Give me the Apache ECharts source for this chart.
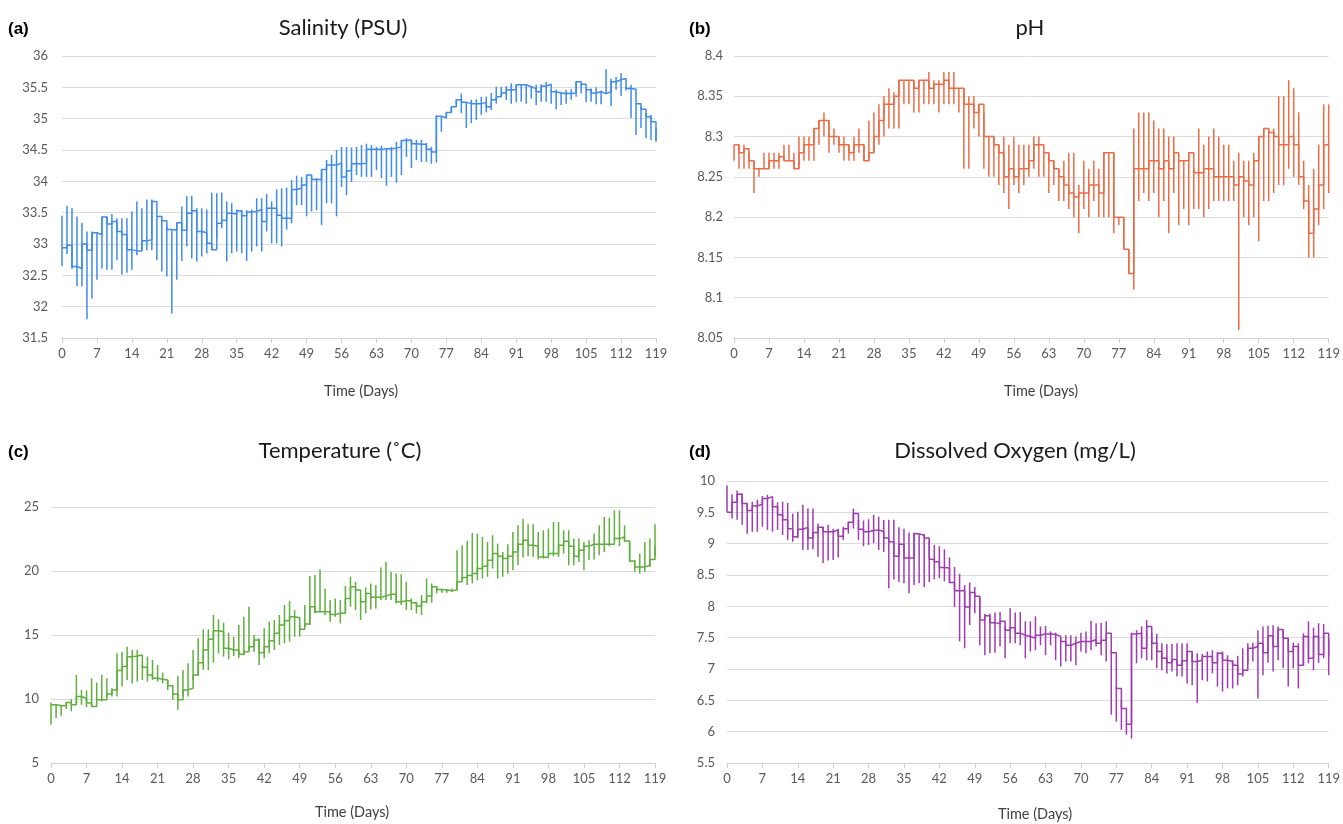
<!DOCTYPE html>
<html>
<head>
<meta charset="utf-8">
<script src="https://cdn.jsdelivr.net/npm/echarts@6/dist/echarts.min.js"></script>
<style>
  html, body { margin: 0; padding: 0; background: #ffffff; }
  #chart { width: 1343px; height: 824px; }
</style>
</head>
<body>
<div id="chart"></div>
<script>
// Daily water-quality record over 120 days: mean with min/max range per day.
const dayCount = 120;

// Salinity (PSU)
const salMean = [
  32.94, 32.98, 32.64, 32.61, 33.00, 32.90, 33.18, 33.15, 33.43, 33.32,
  33.36, 33.20, 33.15, 32.91, 32.89, 32.89, 33.05, 33.07, 33.68, 33.44,
  33.37, 33.23, 33.22, 33.34, 33.22, 33.49, 33.53, 33.20, 33.18, 33.01,
  32.91, 33.33, 33.38, 33.49, 33.48, 33.53, 33.45, 33.51, 33.52, 33.55,
  33.36, 33.57, 33.57, 33.46, 33.41, 33.41, 33.87, 33.89, 33.94, 34.10,
  34.03, 34.03, 34.19, 34.26, 34.26, 34.29, 34.07, 34.17, 34.28, 34.28,
  34.29, 34.51, 34.51, 34.51, 34.52, 34.52, 34.53, 34.55, 34.65, 34.66,
  34.60, 34.59, 34.59, 34.51, 34.47, 35.04, 35.01, 35.10, 35.19, 35.30,
  35.26, 35.24, 35.24, 35.24, 35.26, 35.19, 35.30, 35.35, 35.41, 35.46,
  35.46, 35.54, 35.54, 35.51, 35.48, 35.43, 35.52, 35.55, 35.43, 35.41,
  35.40, 35.40, 35.41, 35.59, 35.55, 35.46, 35.41, 35.43, 35.40, 35.43,
  35.59, 35.62, 35.64, 35.48, 35.47, 35.24, 35.15, 35.03, 34.95, 34.65
];
const salLow = [
  32.65, 32.84, 32.60, 32.33, 32.32, 31.80, 32.13, 32.43, 32.61, 32.59,
  32.59, 32.74, 32.51, 32.54, 32.59, 32.82, 32.90, 32.90, 32.90, 32.74,
  32.56, 32.48, 31.89, 32.43, 32.73, 32.96, 32.77, 32.72, 32.80, 32.85,
  32.91, 33.09, 33.25, 32.72, 32.85, 32.88, 32.85, 32.73, 32.88, 32.96,
  32.88, 33.20, 33.01, 33.01, 32.96, 33.23, 33.33, 33.62, 33.62, 33.44,
  33.52, 33.54, 33.30, 33.65, 33.65, 33.44, 33.91, 33.78, 33.99, 34.10,
  34.07, 34.07, 34.07, 34.18, 34.05, 33.93, 34.07, 33.98, 34.10, 34.39,
  34.21, 34.34, 34.31, 34.31, 34.28, 34.30, 34.79, 35.03, 35.11, 35.22,
  35.09, 34.85, 34.93, 34.98, 35.06, 35.10, 35.14, 35.24, 35.35, 35.30,
  35.24, 35.26, 35.27, 35.24, 35.32, 35.22, 35.27, 35.27, 35.24, 35.15,
  35.22, 35.24, 35.30, 35.35, 35.40, 35.26, 35.27, 35.23, 35.23, 35.40,
  35.20, 35.46, 35.36, 35.45, 35.01, 34.74, 34.85, 34.69, 34.66, 34.63
];
const salHigh = [
  33.45, 33.61, 33.57, 33.44, 33.34, 33.20, 33.20, 33.18, 33.44, 33.44,
  33.48, 33.41, 33.41, 33.41, 33.52, 33.68, 33.57, 33.71, 33.71, 33.44,
  33.38, 33.28, 33.22, 33.34, 33.60, 33.76, 33.77, 33.57, 33.57, 33.55,
  33.82, 33.81, 33.82, 33.68, 33.65, 33.55, 33.54, 33.54, 33.55, 33.73,
  33.73, 33.80, 33.68, 33.87, 33.89, 33.90, 34.02, 34.09, 34.07, 34.10,
  34.09, 34.05, 34.19, 34.34, 34.42, 34.50, 34.55, 34.55, 34.54, 34.55,
  34.58, 34.60, 34.58, 34.55, 34.57, 34.53, 34.55, 34.63, 34.66, 34.69,
  34.66, 34.66, 34.66, 34.61, 34.55, 35.05, 35.04, 35.10, 35.19, 35.31,
  35.40, 35.26, 35.30, 35.31, 35.35, 35.35, 35.41, 35.51, 35.51, 35.52,
  35.56, 35.54, 35.54, 35.54, 35.51, 35.54, 35.55, 35.59, 35.47, 35.46,
  35.43, 35.46, 35.47, 35.59, 35.56, 35.48, 35.48, 35.50, 35.45, 35.79,
  35.64, 35.67, 35.73, 35.51, 35.54, 35.24, 35.19, 35.09, 35.06, 34.85
];

// pH
const phMean = [
  8.290, 8.280, 8.285, 8.270, 8.260, 8.260, 8.260, 8.270, 8.270, 8.275,
  8.270, 8.270, 8.260, 8.280, 8.290, 8.290, 8.310, 8.320, 8.320, 8.300,
  8.300, 8.290, 8.290, 8.280, 8.290, 8.290, 8.270, 8.280, 8.300, 8.320,
  8.340, 8.340, 8.350, 8.370, 8.370, 8.370, 8.360, 8.370, 8.370, 8.360,
  8.365, 8.365, 8.370, 8.360, 8.360, 8.360, 8.340, 8.340, 8.330, 8.340,
  8.300, 8.300, 8.290, 8.280, 8.250, 8.260, 8.250, 8.260, 8.260, 8.270,
  8.290, 8.290, 8.280, 8.270, 8.260, 8.250, 8.240, 8.230, 8.225, 8.230,
  8.230, 8.240, 8.240, 8.230, 8.280, 8.280, 8.200, 8.200, 8.160, 8.130,
  8.260, 8.260, 8.260, 8.270, 8.270, 8.260, 8.270, 8.260, 8.280, 8.270,
  8.270, 8.280, 8.255, 8.255, 8.260, 8.260, 8.250, 8.250, 8.250, 8.250,
  8.240, 8.250, 8.245, 8.240, 8.270, 8.300, 8.310, 8.305, 8.300, 8.290,
  8.290, 8.300, 8.290, 8.250, 8.220, 8.180, 8.210, 8.240, 8.290, 8.290
];
const phLow = [
  8.27, 8.26, 8.26, 8.26, 8.23, 8.25, 8.26, 8.26, 8.26, 8.26,
  8.27, 8.27, 8.26, 8.26, 8.27, 8.27, 8.27, 8.29, 8.30, 8.28,
  8.29, 8.28, 8.27, 8.27, 8.27, 8.28, 8.27, 8.27, 8.28, 8.29,
  8.30, 8.31, 8.31, 8.31, 8.34, 8.34, 8.33, 8.33, 8.34, 8.34,
  8.34, 8.33, 8.34, 8.34, 8.34, 8.33, 8.26, 8.26, 8.31, 8.30,
  8.26, 8.25, 8.25, 8.24, 8.23, 8.21, 8.24, 8.23, 8.24, 8.25,
  8.26, 8.25, 8.25, 8.23, 8.24, 8.22, 8.22, 8.21, 8.20, 8.18,
  8.21, 8.20, 8.22, 8.20, 8.20, 8.20, 8.18, 8.19, 8.16, 8.13,
  8.11, 8.22, 8.23, 8.22, 8.23, 8.20, 8.22, 8.18, 8.23, 8.19,
  8.21, 8.19, 8.21, 8.21, 8.20, 8.21, 8.22, 8.22, 8.22, 8.22,
  8.22, 8.06, 8.20, 8.19, 8.20, 8.17, 8.22, 8.22, 8.23, 8.24,
  8.24, 8.26, 8.25, 8.24, 8.21, 8.15, 8.15, 8.19, 8.21, 8.23
];
const phHigh = [
  8.29, 8.29, 8.29, 8.28, 8.27, 8.26, 8.28, 8.28, 8.28, 8.28,
  8.29, 8.29, 8.28, 8.30, 8.30, 8.30, 8.31, 8.32, 8.33, 8.32,
  8.31, 8.30, 8.30, 8.29, 8.30, 8.31, 8.29, 8.32, 8.33, 8.34,
  8.35, 8.36, 8.355, 8.37, 8.37, 8.37, 8.37, 8.37, 8.37, 8.38,
  8.37, 8.37, 8.38, 8.38, 8.38, 8.36, 8.36, 8.35, 8.35, 8.34,
  8.33, 8.30, 8.30, 8.29, 8.30, 8.29, 8.30, 8.29, 8.29, 8.29,
  8.30, 8.30, 8.28, 8.28, 8.27, 8.26, 8.27, 8.28, 8.28, 8.24,
  8.27, 8.26, 8.27, 8.26, 8.28, 8.28, 8.28, 8.20, 8.20, 8.16,
  8.31, 8.33, 8.33, 8.33, 8.32, 8.31, 8.31, 8.30, 8.30, 8.27,
  8.27, 8.28, 8.26, 8.31, 8.29, 8.30, 8.31, 8.30, 8.29, 8.29,
  8.27, 8.28, 8.27, 8.27, 8.28, 8.30, 8.31, 8.31, 8.31, 8.35,
  8.35, 8.37, 8.36, 8.33, 8.27, 8.24, 8.26, 8.29, 8.34, 8.34
];

// Temperature (°C)
const tempMean = [
  9.55, 9.47, 9.47, 9.73, 9.55, 10.19, 10.06, 9.68, 9.42, 9.94,
  9.94, 10.40, 10.71, 12.22, 12.53, 13.31, 13.36, 13.44, 12.48, 11.88,
  11.62, 11.55, 11.49, 11.03, 10.40, 9.94, 10.71, 10.84, 11.88, 12.84,
  13.83, 14.66, 15.34, 15.26, 13.96, 13.83, 13.83, 13.50, 13.70, 14.09,
  14.61, 13.62, 14.09, 14.56, 15.13, 15.78, 16.12, 16.43, 16.35, 15.44,
  15.86, 17.21, 16.82, 16.82, 16.82, 16.61, 16.69, 16.69, 17.86, 18.77,
  18.51, 17.60, 18.25, 17.94, 17.94, 18.04, 18.19, 18.19, 17.60, 17.68,
  17.68, 17.52, 17.26, 17.60, 18.04, 18.77, 18.56, 18.51, 18.45, 18.51,
  19.16, 19.49, 19.65, 19.81, 20.19, 20.38, 20.84, 21.36, 21.16, 20.97,
  21.16, 21.49, 22.09, 22.40, 22.01, 21.94, 21.10, 21.05, 21.36, 21.36,
  22.01, 22.32, 21.94, 21.16, 21.62, 21.94, 22.09, 22.09, 22.09, 22.09,
  22.09, 22.53, 22.66, 22.35, 20.79, 20.32, 20.32, 20.45, 20.90, 21.94
];
const tempLow = [
  7.99, 8.51, 8.69, 9.21, 9.03, 9.55, 9.55, 9.36, 9.42, 9.94,
  9.81, 10.19, 10.19, 10.19, 10.97, 11.49, 11.23, 11.36, 11.49, 11.36,
  11.49, 11.36, 11.23, 10.71, 9.94, 9.16, 10.19, 10.19, 11.49, 11.81,
  12.27, 12.27, 12.84, 13.57, 13.31, 13.10, 13.36, 13.20, 13.44, 13.83,
  13.70, 12.66, 13.18, 13.57, 13.83, 14.22, 14.35, 14.48, 14.87, 14.87,
  15.65, 15.78, 16.69, 16.82, 16.56, 16.04, 16.43, 15.91, 16.82, 17.21,
  16.95, 16.17, 16.69, 17.00, 17.08, 17.73, 17.73, 17.73, 17.47, 17.34,
  16.95, 16.95, 16.69, 16.56, 17.47, 17.52, 18.25, 18.30, 18.30, 18.38,
  18.56, 19.29, 18.90, 19.03, 19.29, 19.42, 19.55, 20.19, 19.42, 19.55,
  19.81, 20.06, 20.45, 21.05, 21.16, 21.10, 20.90, 20.97, 21.23, 21.16,
  21.10, 21.36, 20.45, 20.45, 20.71, 20.06, 20.84, 20.90, 21.23, 21.49,
  21.94, 22.40, 21.94, 22.27, 20.71, 19.94, 19.81, 19.94, 20.32, 21.16
];
const tempHigh = [
  9.73, 9.55, 9.55, 9.73, 9.99, 11.88, 10.71, 10.66, 11.62, 11.29,
  11.88, 11.62, 10.84, 13.57, 13.70, 14.09, 13.83, 13.83, 12.66, 13.31,
  13.05, 12.66, 12.06, 11.49, 10.51, 11.81, 12.27, 12.79, 13.83, 14.74,
  15.44, 15.44, 16.56, 16.22, 15.96, 15.18, 14.87, 15.78, 16.43, 17.21,
  15.00, 14.74, 15.52, 16.04, 16.17, 16.56, 17.34, 17.65, 16.95, 15.78,
  17.34, 19.60, 19.68, 20.12, 18.64, 17.73, 17.86, 17.73, 18.82, 19.55,
  19.16, 17.86, 18.71, 19.03, 18.90, 20.27, 20.71, 19.94, 19.81, 19.75,
  19.16, 17.86, 17.60, 18.12, 19.42, 19.03, 18.77, 18.56, 18.56, 18.64,
  21.62, 22.01, 22.35, 22.97, 22.92, 22.66, 22.27, 22.79, 22.14, 21.49,
  22.09, 23.05, 23.57, 24.09, 23.65, 23.65, 23.05, 23.18, 23.31, 23.83,
  23.83, 23.18, 23.18, 22.53, 22.53, 22.27, 22.40, 22.92, 23.57, 24.22,
  24.17, 24.74, 24.74, 23.57, 22.27, 20.84, 21.36, 22.27, 22.53, 23.65
];

// Dissolved oxygen (mg/L)
const doMean = [
  9.50, 9.66, 9.79, 9.64, 9.53, 9.60, 9.63, 9.72, 9.75, 9.59,
  9.46, 9.38, 9.24, 9.11, 9.23, 9.26, 9.09, 9.18, 9.26, 9.19,
  9.19, 9.22, 9.12, 9.24, 9.34, 9.48, 9.23, 9.19, 9.21, 9.22,
  9.19, 9.09, 9.03, 8.80, 8.99, 8.77, 8.77, 9.16, 9.13, 9.09,
  8.75, 8.71, 8.62, 8.61, 8.38, 8.25, 8.25, 7.99, 8.22, 8.16,
  7.78, 7.85, 7.74, 7.72, 7.76, 7.62, 7.66, 7.57, 7.54, 7.52,
  7.49, 7.54, 7.56, 7.56, 7.55, 7.52, 7.44, 7.38, 7.41, 7.44,
  7.44, 7.44, 7.47, 7.41, 7.46, 7.57, 7.26, 6.69, 6.37, 6.12,
  7.56, 7.57, 7.33, 7.68, 7.41, 7.28, 7.17, 7.10, 7.15, 7.06,
  7.13, 7.28, 7.12, 7.14, 7.20, 7.20, 7.10, 7.25, 7.14, 7.12,
  7.06, 6.92, 6.98, 7.33, 7.36, 7.41, 7.26, 7.53, 7.36, 7.63,
  7.49, 7.28, 7.36, 7.06, 7.52, 7.17, 7.52, 7.23, 7.57, 7.19
];
const doLow = [
  9.50, 9.40, 9.38, 9.30, 9.16, 9.19, 9.19, 9.27, 9.22, 9.19,
  9.22, 9.14, 9.06, 9.03, 9.09, 8.90, 8.90, 8.91, 8.79, 8.69,
  8.73, 8.74, 8.78, 9.06, 9.16, 9.24, 9.06, 8.96, 8.98, 9.01,
  8.90, 8.87, 8.29, 8.43, 8.39, 8.37, 8.21, 8.34, 8.37, 8.31,
  8.39, 8.43, 8.45, 8.40, 8.37, 7.99, 7.44, 7.33, 7.70, 7.89,
  7.38, 7.22, 7.25, 7.26, 7.36, 7.17, 7.41, 7.41, 7.38, 7.17,
  7.28, 7.30, 7.38, 7.22, 7.38, 7.14, 7.04, 7.12, 7.12, 7.06,
  7.28, 7.25, 7.30, 7.36, 7.22, 7.12, 6.27, 6.16, 6.03, 5.95,
  5.89, 7.09, 7.17, 7.14, 7.14, 7.01, 6.98, 6.93, 6.96, 6.88,
  6.88, 6.77, 6.74, 6.46, 6.82, 6.80, 6.93, 6.72, 6.64, 6.69,
  6.69, 6.74, 6.88, 7.09, 7.12, 6.53, 6.90, 7.10, 6.96, 7.14,
  7.01, 6.72, 7.01, 6.69, 7.06, 7.09, 6.98, 7.10, 7.17, 6.90
];
const doHigh = [
  9.93, 9.79, 9.85, 9.80, 9.64, 9.67, 9.70, 9.76, 9.78, 9.69,
  9.66, 9.67, 9.65, 9.48, 9.51, 9.62, 9.56, 9.56, 9.32, 9.27,
  9.30, 9.24, 9.24, 9.27, 9.35, 9.56, 9.38, 9.37, 9.39, 9.46,
  9.43, 9.38, 9.38, 9.38, 9.26, 9.24, 9.18, 9.18, 9.15, 9.16,
  9.06, 8.98, 8.96, 8.91, 8.78, 8.63, 8.52, 8.34, 8.38, 8.31,
  8.14, 7.88, 7.88, 7.90, 7.91, 7.68, 7.97, 7.90, 7.91, 7.76,
  7.76, 7.84, 7.68, 7.69, 7.60, 7.58, 7.49, 7.54, 7.54, 7.52,
  7.58, 7.60, 7.77, 7.73, 7.74, 7.76, 7.30, 6.72, 6.51, 6.13,
  7.58, 7.62, 7.68, 7.78, 7.57, 7.56, 7.41, 7.40, 7.40, 7.41,
  7.41, 7.41, 7.26, 7.25, 7.24, 7.28, 7.30, 7.27, 7.28, 7.22,
  7.14, 7.21, 7.33, 7.41, 7.42, 7.62, 7.68, 7.69, 7.70, 7.68,
  7.63, 7.49, 7.42, 7.41, 7.57, 7.76, 7.66, 7.73, 7.72, 7.49
];

const days = Array.from({ length: dayCount }, (_, i) => i);

// Panel layout and styling
const panels = [
  { tag: '(a)', title: 'Salinity (PSU)', mean: salMean, low: salLow, high: salHigh,
    color: '#3f8bea', yMin: 31.5, yMax: 36, yStep: 0.5,
    grid: { left: 62, right: 687, top: 56, bottom: 486 },
    titleX: 343, titleY: 28, nameX: 361, nameY: 391, labelMargin: 14 },
  { tag: '(b)', title: 'pH', mean: phMean, low: phLow, high: phHigh,
    color: '#eb6c45', yMin: 8.05, yMax: 8.4, yStep: 0.05,
    grid: { left: 734, right: 14, top: 56, bottom: 486 },
    titleX: 1030, titleY: 28, nameX: 1041, nameY: 391, labelMargin: 11 },
  { tag: '(c)', title: 'Temperature (\u02DAC)', mean: tempMean, low: tempLow, high: tempHigh,
    color: '#5fae3e', yMin: 5, yMax: 25, yStep: 5,
    grid: { left: 51, right: 688, top: 507, bottom: 61 },
    titleX: 340, titleY: 451, nameX: 352, nameY: 812, labelMargin: 12 },
  { tag: '(d)', title: 'Dissolved Oxygen (mg/L)', mean: doMean, low: doLow, high: doHigh,
    color: '#a03cb2', yMin: 5.5, yMax: 10, yStep: 0.5,
    grid: { left: 727, right: 14, top: 481, bottom: 61 },
    titleX: 1015, titleY: 451, nameX: 1035, nameY: 814, labelMargin: 12 }
];

const labelFont = 'Lato, "Open Sans", sans-serif';
const option = {
  animation: false,
  backgroundColor: '#ffffff',
  grid: [], xAxis: [], yAxis: [], series: [], graphic: []
};

panels.forEach((p, i) => {
  option.grid.push(Object.assign({ containLabel: false }, p.grid));
  option.xAxis.push({
    type: 'value', gridIndex: i, min: 0, max: dayCount - 1, interval: 7,
    axisLine: { lineStyle: { color: '#d0d0d0', width: 1 } },
    axisTick: { show: true, length: 5, lineStyle: { color: '#d0d0d0' } },
    axisLabel: { color: '#595959', fontSize: 13, fontFamily: labelFont, margin: 9 },
    splitLine: { show: false }
  });
  option.yAxis.push({
    type: 'value', gridIndex: i, min: p.yMin, max: p.yMax, interval: p.yStep,
    axisLine: { show: false }, axisTick: { show: false },
    axisLabel: { color: '#595959', fontSize: 13, fontFamily: labelFont, margin: p.labelMargin },
    splitLine: { lineStyle: { color: '#dcdcdc', width: 1 } }
  });
  // daily min-max range as a vertical bar
  option.series.push({
    type: 'custom', xAxisIndex: i, yAxisIndex: i,
    data: days.map(d => [d, p.low[d], p.high[d]]),
    encode: { x: 0, y: [1, 2] },
    renderItem: (params, api) => {
      const a = api.coord([api.value(0), api.value(1)]);
      const b = api.coord([api.value(0), api.value(2)]);
      return { type: 'line', shape: { x1: a[0], y1: a[1], x2: b[0], y2: b[1] },
               style: { stroke: p.color, lineWidth: 1.5 } };
    },
    z: 2
  });
  // daily mean as a step line
  option.series.push({
    type: 'line', xAxisIndex: i, yAxisIndex: i, step: 'end',
    data: days.map(d => [d, p.mean[d]]),
    symbol: 'none', lineStyle: { color: p.color, width: 1.5 }, z: 3
  });
  option.graphic.push({
    type: 'text', x: p.titleX, y: p.titleY,
    style: { text: p.title, fill: '#1a1a1a', font: '22px ' + labelFont,
             textAlign: 'center', textVerticalAlign: 'middle' }
  });
  option.graphic.push({
    type: 'text', x: p.nameX, y: p.nameY,
    style: { text: 'Time (Days)', fill: '#404040', font: '14.5px ' + labelFont,
             textAlign: 'center', textVerticalAlign: 'middle' }
  });
  option.graphic.push({
    type: 'text', x: i % 2 === 0 ? 8 : 689, y: p.titleY + 1,
    style: { text: p.tag, fill: '#000000', font: 'bold 17px "Liberation Sans", Arial, sans-serif',
             textAlign: 'left', textVerticalAlign: 'middle' }
  });
});

const chart = echarts.init(document.getElementById('chart'), null, { renderer: 'canvas' });
chart.setOption(option);
</script>
</body>
</html>
